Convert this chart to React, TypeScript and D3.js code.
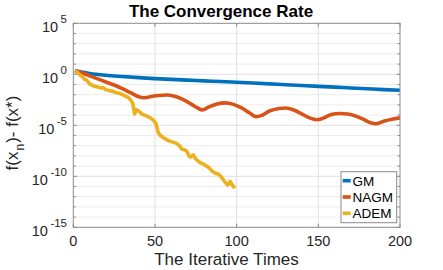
import { useEffect, useRef } from 'react';
import * as d3 from 'd3';

// values, stored as log10 of f(x_n) - f(x*)
const gmIter = [1, 5, 10, 20, 30, 40, 50, 60, 70, 80, 90, 100, 110, 120, 130, 140, 150, 160, 170, 180, 190, 200];
const gmLog = [0.35, 0.22, 0.08, -0.1, -0.22, -0.33, -0.42, -0.5, -0.57, -0.64, -0.71, -0.78, -0.86, -0.94, -1.02, -1.1, -1.18, -1.26, -1.34, -1.42, -1.5, -1.57];

const nagmIter = [1, 5, 10, 15, 20, 25, 30, 35, 40, 43, 47, 52, 57, 62, 67, 72, 76, 79, 83, 88, 93, 98, 103, 108, 112, 115, 120, 126, 130, 135, 140, 145, 149, 153, 158, 163, 168, 173, 178, 182, 185, 190, 195, 200];
const nagmLog = [0.35, 0.15, -0.15, -0.45, -0.75, -1.05, -1.4, -1.8, -2.2, -2.3, -2.2, -2.08, -2.03, -2.15, -2.45, -2.9, -3.3, -3.5, -3.2, -2.9, -2.8, -2.95, -3.3, -3.8, -4.15, -4.05, -3.6, -3.35, -3.3, -3.5, -3.9, -4.3, -4.45, -4.3, -3.95, -3.85, -3.9, -4.1, -4.45, -4.75, -4.85, -4.6, -4.4, -4.27];

const ademIter = [1, 3, 4, 6, 7, 8, 10, 12, 13, 15, 17, 18, 20, 22, 24, 26, 28, 30, 32, 34, 35.5, 36.5, 37.5, 38.5, 40, 42, 45, 47, 49, 50.5, 52, 53, 55, 57, 59, 61, 63, 65, 66.5, 68, 69.5, 71, 72, 73.5, 75, 77, 79, 81, 83, 85, 87, 89, 91, 93, 94.5, 96, 97.5, 99];
const ademLog = [0.35, 0.1, -0.05, -0.3, -0.5, -0.55, -0.95, -1.1, -1.17, -1.25, -1.35, -1.3, -1.5, -1.6, -1.65, -1.8, -1.85, -2.0, -2.15, -2.3, -2.6, -2.9, -3.9, -3.45, -3.6, -3.9, -4.1, -4.25, -4.5, -4.8, -5.7, -5.95, -6.2, -6.4, -6.55, -6.65, -6.75, -7.0, -7.35, -7.4, -7.55, -8.05, -8.1, -7.9, -8.3, -8.6, -8.75, -8.95, -9.15, -9.5, -9.7, -9.8, -10.15, -10.6, -10.85, -10.5, -10.9, -11.15];

const seriesNames = ['GM', 'NAGM', 'ADEM'];
const seriesColors = ['#0072BD', '#D95319', '#EDB120'];

const xTicks = [0, 50, 100, 150, 200];
const yMajorExp = [5, 0, -5, -10, -15];

const FONT = "'Liberation Sans', Arial, Helvetica, sans-serif";
const TEXT = '#262626';
const AXIS = '#8a8a8a';

const App = () => {
  const ref = useRef(null);

  const margin = { top: 23.3, right: 43, bottom: 42.7, left: 73.3 };
  const W = 443;
  const H = 270;
  const width = W - margin.left - margin.right;
  const height = H - margin.top - margin.bottom;

  useEffect(() => {
    const svg = d3.select(ref.current);
    svg.selectAll('*').remove();

    const x = d3.scaleLinear().domain([0, 200]).range([margin.left, margin.left + width]);
    const y = d3.scaleLog().domain([1e-15, 1e5]).range([margin.top + height, margin.top]);
    const x0 = margin.left;
    const x1 = margin.left + width;
    const y0 = margin.top + height;
    const y1 = margin.top;

    svg.append('rect').attr('width', W).attr('height', H).attr('fill', '#fff');

    // grid: every decade (minor), then major
    const decades = d3.range(-15, 6);
    const grid = svg.append('g');
    grid.selectAll('line.minor')
      .data(decades.filter((e) => !yMajorExp.includes(e)))
      .enter().append('line')
      .attr('x1', x0).attr('x2', x1)
      .attr('y1', (e) => y(Math.pow(10, e))).attr('y2', (e) => y(Math.pow(10, e)))
      .attr('stroke', '#ececec').attr('stroke-width', 1);
    grid.selectAll('line.ymaj')
      .data(yMajorExp.slice(1, -1))
      .enter().append('line')
      .attr('x1', x0).attr('x2', x1)
      .attr('y1', (e) => y(Math.pow(10, e))).attr('y2', (e) => y(Math.pow(10, e)))
      .attr('stroke', '#e0e0e0').attr('stroke-width', 1);
    grid.selectAll('line.xmaj')
      .data(xTicks.slice(1, -1))
      .enter().append('line')
      .attr('x1', (d) => x(d)).attr('x2', (d) => x(d))
      .attr('y1', y0).attr('y2', y1)
      .attr('stroke', '#e0e0e0').attr('stroke-width', 1);

    // series
    const line = (curve: any) =>
      d3.line<[number, number]>()
        .x((d) => x(d[0]))
        .y((d) => y(Math.pow(10, d[1])))
        .curve(curve);

    const series: [number, number][][] = [
      gmIter.map((k, i) => [k, gmLog[i]]),
      nagmIter.map((k, i) => [k, nagmLog[i]]),
      ademIter.map((k, i) => [k, ademLog[i]]),
    ];
    const curves = [d3.curveMonotoneX, d3.curveMonotoneX, d3.curveLinear];

    series.forEach((pts, i) => {
      svg.append('path')
        .attr('d', line(curves[i])(pts))
        .attr('fill', 'none')
        .attr('stroke', seriesColors[i])
        .attr('stroke-width', 3.6)
        .attr('stroke-linejoin', 'round');
    });

    // axes box
    svg.append('rect')
      .attr('x', x0).attr('y', y1)
      .attr('width', width).attr('height', height)
      .attr('fill', 'none').attr('stroke', AXIS).attr('stroke-width', 1);

    // y ticks (every decade, inward on both sides)
    const yt = svg.append('g').attr('stroke', AXIS).attr('stroke-width', 1);
    decades.forEach((e) => {
      const len = yMajorExp.includes(e) ? 3.5 : 2.5;
      const yy = y(Math.pow(10, e));
      yt.append('line').attr('x1', x0).attr('x2', x0 + len).attr('y1', yy).attr('y2', yy);
      yt.append('line').attr('x1', x1).attr('x2', x1 - len).attr('y1', yy).attr('y2', yy);
    });
    xTicks.forEach((t) => {
      yt.append('line').attr('x1', x(t)).attr('x2', x(t)).attr('y1', y0).attr('y2', y0 - 3.5);
      yt.append('line').attr('x1', x(t)).attr('x2', x(t)).attr('y1', y1).attr('y2', y1 + 3.5);
    });

    // y tick labels 10^e
    yMajorExp.forEach((e) => {
      const yy = y(Math.pow(10, e));
      const t = svg.append('text')
        .attr('x', 67).attr('y', yy + 8.4)
        .attr('text-anchor', 'end')
        .style('font-family', FONT).style('font-size', '14.5px').attr('fill', TEXT);
      t.append('tspan').text('10');
      t.append('tspan').attr('dx', 2.5).attr('dy', -8.4).style('font-size', '11.5px').text(String(e));
    });

    // x tick labels
    svg.selectAll('text.xt')
      .data(xTicks)
      .enter().append('text')
      .attr('x', (d) => x(d)).attr('y', 246)
      .attr('text-anchor', 'middle')
      .style('font-family', FONT).style('font-size', '14.5px').attr('fill', TEXT)
      .text((d) => String(d));

    // title
    svg.append('text')
      .attr('x', 221).attr('y', 17)
      .attr('text-anchor', 'middle')
      .style('font-family', FONT).style('font-size', '17px').style('font-weight', 'bold')
      .attr('fill', '#000')
      .text('The Convergence Rate');

    // x label
    svg.append('text')
      .attr('x', 226.5).attr('y', 265)
      .attr('text-anchor', 'middle')
      .style('font-family', FONT).style('font-size', '17px').attr('fill', TEXT)
      .text('The Iterative Times');

    // y label
    const yl = svg.append('text')
      .attr('transform', 'translate(18,133) rotate(-90)')
      .attr('text-anchor', 'middle')
      .style('font-family', FONT).style('font-size', '17px').attr('fill', TEXT);
    yl.append('tspan').text('f(x');
    yl.append('tspan').attr('dx', 1).attr('dy', 6).style('font-size', '12px').text('n');
    yl.append('tspan').attr('dx', 1).attr('dy', -6).text(')- f(x*)');

    // legend
    const lg = svg.append('g');
    lg.append('rect')
      .attr('x', 341).attr('y', 171.7).attr('width', 55.7).attr('height', 51)
      .attr('fill', '#fff').attr('stroke', AXIS).attr('stroke-width', 1);
    const rowY = [180.7, 197, 213.3];
    seriesNames.forEach((name, i) => {
      lg.append('line')
        .attr('x1', 342.7).attr('x2', 350.7)
        .attr('y1', rowY[i]).attr('y2', rowY[i])
        .attr('stroke', seriesColors[i]).attr('stroke-width', 3.6);
      lg.append('text')
        .attr('x', 352.5).attr('y', rowY[i] + 5)
        .style('font-family', FONT).style('font-size', '13.5px').attr('fill', '#000')
        .text(name);
    });
  }, []);

  return (
    <svg
      ref={ref}
      width={W}
      height={H}
      viewBox={`0 0 ${W} ${H}`}
      style={{ position: 'absolute', left: 0, top: 0, display: 'block' }}
    />
  );
};

export default App;
